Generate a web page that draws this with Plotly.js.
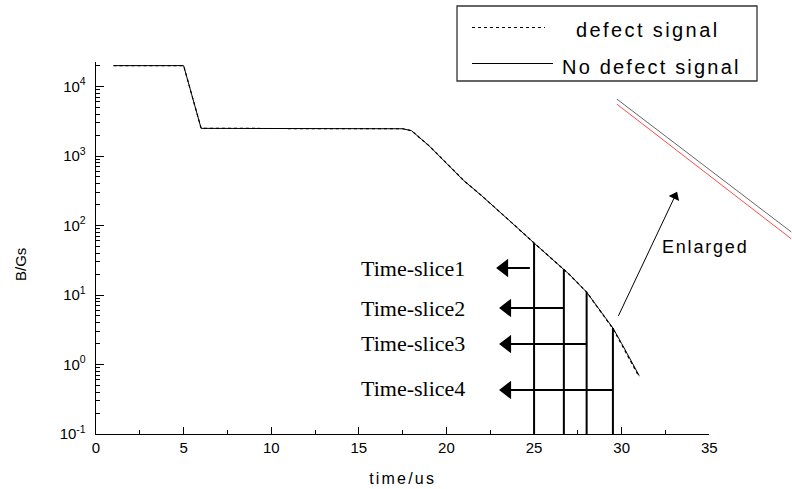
<!DOCTYPE html>
<html>
<head>
<meta charset="utf-8">
<script src="https://cdn.plot.ly/plotly-3.0.1.min.js"></script>
<style>html,body{margin:0;padding:0;background:#fff;}</style>
</head>
<body>
<div id="chart" style="width:792px;height:489px;"></div>
<script>
// ---- data ----
const time      = [1, 5, 6, 17, 17.5, 18, 18.5, 19, 20, 21, 22, 23, 24, 25, 26, 26.7, 27, 28, 29, 29.5, 30, 30.5, 31];
const noDefect  = [20000, 20000, 2500, 2500, 2470, 2320, 1820, 1410, 789, 440, 270, 162, 95, 56, 33.7, 23.7, 19.9, 11, 5.0, 3.35, 2.0, 1.19, 0.69];
const defect    = [20000, 20000, 2500, 2500, 2470, 2320, 1820, 1410, 789, 440, 270, 162, 95, 56, 33.7, 23.7, 19.9, 11, 4.9, 3.28, 1.93, 1.14, 0.66];
const sliceNames = ["Time-slice1", "Time-slice2", "Time-slice3", "Time-slice4"];
const sliceTimes = [25, 26.7, 28, 29.5];
const sliceTops  = [56, 23.7, 11, 3.35];
const sliceArrowLevels = [24.5, 6.5, 1.97, 0.43];
const sliceArrowHeads  = [23.29, 23.46, 23.46, 23.46];
const slice1ArrowTail  = 24.76;
// enlarged view of the two signals
const insetTime      = [29.3, 29.7];
const insetNoDefect  = [4.163, 2.92];
const insetDefect    = [4.116, 2.856];
// enlarged arrow (tail -> head)
const enlargedArrowX = [29.81, 33.04];
const enlargedArrowY = [5.0, 264];
const yTickVals = [0.1, 1, 10, 100, 1000, 10000];
const yTickText = ["10<sup>-1</sup>", "10<sup>0</sup>", "10<sup>1</sup>", "10<sup>2</sup>", "10<sup>3</sup>", "10<sup>4</sup>"];
const xTickVals = [0, 5, 10, 15, 20, 25, 30, 35];

// ---- layout helpers (pixel -> paper) ----
const M = {l: 96, r: 0, t: 62, b: 55};
const PW = 792 - M.l - M.r, PH = 489 - M.t - M.b;
const px = x => (x - M.l) / PW;
const py = y => 1 - (y - M.t) / PH;
const LS = (s, t) => '<span style="letter-spacing:' + s + 'px">' + t + '</span>';
const SANS = 'Liberation Sans, Arial, sans-serif';

const minorY = [];
for (let e = -1; e <= 4; e++) for (let k = 2; k <= 9; k++) minorY.push(k * Math.pow(10, e));

const traces = [
  {x: time, y: defect, mode: 'lines', name: 'defect signal',
   line: {color: '#000', width: 1.2, dash: 'dot'}, xaxis: 'x', yaxis: 'y'},
  {x: time, y: noDefect, mode: 'lines', name: 'No defect signal',
   line: {color: '#000', width: 1}, xaxis: 'x', yaxis: 'y'},
];
sliceTimes.forEach((t, i) => {
  traces.push({x: [t, t], y: [0.1, sliceTops[i]], mode: 'lines',
    line: {color: '#000', width: 2}, xaxis: 'x', yaxis: 'y', hoverinfo: 'skip'});
  const tail = i === 0 ? slice1ArrowTail : t;
  traces.push({x: [tail, sliceArrowHeads[i]], y: [sliceArrowLevels[i], sliceArrowLevels[i]],
    mode: 'lines', line: {color: '#000', width: 2}, xaxis: 'x', yaxis: 'y', hoverinfo: 'skip'});
});
// arrowheads of the time-slice arrows
traces.push({x: sliceArrowHeads, y: sliceArrowLevels, mode: 'markers',
  marker: {symbol: 'triangle-left', size: 16, color: '#000', opacity: 1, line: {width: 0}},
  xaxis: 'x', yaxis: 'y', hoverinfo: 'skip'});
// enlarged arrow
traces.push({x: enlargedArrowX, y: enlargedArrowY, mode: 'lines',
  line: {color: '#000', width: 1}, xaxis: 'x', yaxis: 'y', hoverinfo: 'skip'});
traces.push({x: [enlargedArrowX[1]], y: [enlargedArrowY[1]], mode: 'markers',
  marker: {symbol: 'triangle-up', size: 10, angle: 25, color: '#000', opacity: 1, line: {width: 0}},
  xaxis: 'x', yaxis: 'y', hoverinfo: 'skip'});
traces.push({x: insetTime, y: insetNoDefect, mode: 'lines', line: {color: '#666', width: 1}, xaxis: 'x2', yaxis: 'y2'});
traces.push({x: insetTime, y: insetDefect, mode: 'lines', line: {color: '#ff4a4a', width: 1}, xaxis: 'x2', yaxis: 'y2'});

const annotations = [];
const textY = [268, 308, 343, 388];
sliceNames.forEach((n, i) => {
  annotations.push({text: n, xref: 'paper', yref: 'paper', x: px(413), y: py(textY[i]),
    xanchor: 'center', yanchor: 'middle', showarrow: false,
    font: {family: 'Liberation Serif, Times New Roman, serif', size: 22, color: '#000'}});
});
annotations.push({text: LS(1.8, 'Enlarged'), xref: 'paper', yref: 'paper', x: px(705), y: py(247),
  xanchor: 'center', yanchor: 'middle', showarrow: false,
  font: {family: SANS, size: 18, color: '#000'}});
// legend texts
annotations.push({text: LS(2.4, 'defect signal'), xref: 'paper', yref: 'paper', x: px(574), y: py(30),
  xanchor: 'left', yanchor: 'middle', showarrow: false,
  font: {family: SANS, size: 20, color: '#000'}});
annotations.push({text: LS(2.2, 'No defect signal'), xref: 'paper', yref: 'paper', x: px(560), y: py(67),
  xanchor: 'left', yanchor: 'middle', showarrow: false,
  font: {family: SANS, size: 20, color: '#000'}});
// y-axis title
annotations.push({text: 'B/Gs', xref: 'paper', yref: 'paper', x: px(20), y: py(265), textangle: -90,
  xanchor: 'center', yanchor: 'middle', showarrow: false,
  font: {family: SANS, size: 15, color: '#000'}});

const shapes = [
  {type: 'rect', xref: 'paper', yref: 'paper', x0: px(457), x1: px(757), y0: py(81), y1: py(6),
   line: {color: '#333', width: 1.3}, fillcolor: 'rgba(0,0,0,0)'},
  {type: 'line', xref: 'paper', yref: 'paper', x0: px(472), x1: px(545), y0: py(27.5), y1: py(27.5),
   line: {color: '#000', width: 1, dash: 'dot'}},
  {type: 'line', xref: 'paper', yref: 'paper', x0: px(472), x1: px(553), y0: py(63.5), y1: py(63.5),
   line: {color: '#000', width: 1}},
];

const axisFont = {family: SANS, size: 15, color: '#000'};
const layout = {
  width: 792, height: 489,
  margin: M,
  paper_bgcolor: '#fff', plot_bgcolor: 'rgba(0,0,0,0)',
  showlegend: false,
  font: axisFont,
  xaxis: {
    domain: [0, px(709.3)], range: [0, 35], tickvals: xTickVals,
    ticks: 'inside', ticklen: 7, tickwidth: 1, tickcolor: '#000',
    minor: {dtick: 2.5, tick0: 0, ticks: 'inside', ticklen: 4, tickwidth: 1, tickcolor: '#000'},
    showline: true, linecolor: '#000', linewidth: 1.3, showgrid: false, zeroline: false,
    tickfont: axisFont, anchor: 'y',
    title: {text: LS(2.2, 'time/us'), font: {family: SANS, size: 16, color: '#000'}, standoff: 17}
  },
  yaxis: {
    type: 'log', range: [-1, 4.353], tickvals: yTickVals, ticktext: yTickText,
    ticks: 'inside', ticklen: 8, tickwidth: 1, tickcolor: '#000',
    minor: {tickvals: minorY, ticks: 'inside', ticklen: 4, tickwidth: 1, tickcolor: '#000'},
    showline: true, linecolor: '#000', linewidth: 1.3, showgrid: false, zeroline: false,
    tickfont: axisFont, anchor: 'x', ticklabelstandoff: 6
  },
  xaxis2: {domain: [px(616.7), px(791.5)], range: [29.3, 29.7], visible: false, anchor: 'y2'},
  yaxis2: {domain: [py(245), py(95)], range: [2.8, 4.2], visible: false, anchor: 'x2'},
  annotations: annotations,
  shapes: shapes
};

Plotly.newPlot('chart', traces, layout, {staticPlot: true, displayModeBar: false});
</script>
</body>
</html>
